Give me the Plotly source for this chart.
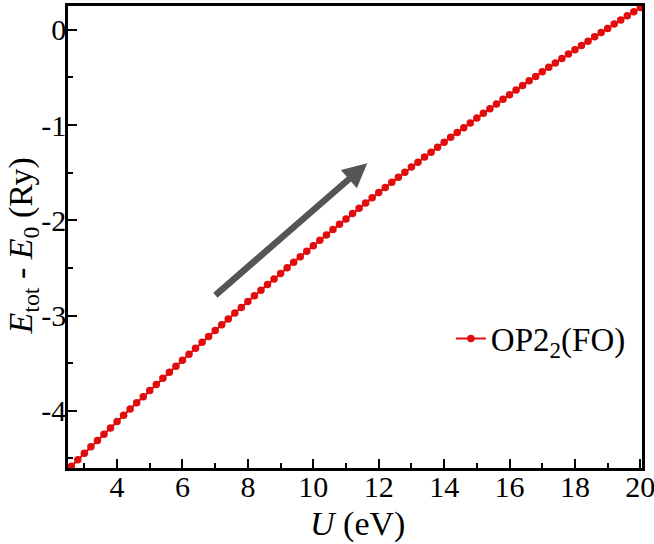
import plotly.graph_objects as go

# U (eV) values
U = [2.6, 2.8, 3.0, 3.2, 3.4, 3.6, 3.8, 4.0, 4.2, 4.4, 4.6, 4.8, 5.0, 5.2, 5.4, 5.6, 5.8,
     6.0, 6.2, 6.4, 6.6, 6.8, 7.0, 7.2, 7.4, 7.6, 7.8, 8.0, 8.2, 8.4, 8.6, 8.8, 9.0,
     9.2, 9.4, 9.6, 9.8, 10.0, 10.2, 10.4, 10.6, 10.8, 11.0, 11.2, 11.4, 11.6, 11.8,
     12.0, 12.2, 12.4, 12.6, 12.8, 13.0, 13.2, 13.4, 13.6, 13.8, 14.0, 14.2, 14.4,
     14.6, 14.8, 15.0, 15.2, 15.4, 15.6, 15.8, 16.0, 16.2, 16.4, 16.6, 16.8, 17.0,
     17.2, 17.4, 17.6, 17.8, 18.0, 18.2, 18.4, 18.6, 18.8, 19.0, 19.2, 19.4, 19.6,
     19.8, 20.0]

# E_tot - E_0 (Ry)
dE = [-4.581, -4.513, -4.445, -4.378, -4.311, -4.245, -4.179, -4.113, -4.047, -3.981,
      -3.916, -3.852, -3.787, -3.723, -3.659, -3.595, -3.532, -3.469, -3.406, -3.343,
      -3.281, -3.219, -3.157, -3.096, -3.035, -2.974, -2.914, -2.853, -2.793, -2.734,
      -2.674, -2.615, -2.557, -2.498, -2.440, -2.382, -2.324, -2.267, -2.210, -2.153,
      -2.097, -2.040, -1.985, -1.929, -1.874, -1.819, -1.764, -1.709, -1.655, -1.601,
      -1.548, -1.494, -1.441, -1.389, -1.336, -1.284, -1.232, -1.181, -1.129, -1.078,
      -1.028, -0.977, -0.927, -0.877, -0.828, -0.778, -0.729, -0.681, -0.632, -0.584,
      -0.536, -0.489, -0.441, -0.394, -0.348, -0.301, -0.255, -0.209, -0.164, -0.119,
      -0.074, -0.029, 0.015, 0.060, 0.103, 0.147, 0.190, 0.233]

series_name = "OP2<sub>2</sub>(FO)"
x_title = "<i>U</i> (eV)"
y_title = "<i>E</i><sub>tot</sub> - <i>E</i><sub>0</sub> (Ry)"
x_ticks = [4, 6, 8, 10, 12, 14, 16, 18, 20]
y_ticks = [0, -1, -2, -3, -4]

# arrow (tail -> tip), in data units
arrow_tail = (6.96, -2.80)
arrow_tip = (11.65, -1.40)

red = "rgb(226,12,12)"
font_family = "Liberation Serif, Times New Roman, serif"
tick_size = 30
title_size = 34
legend_size = 33

fig = go.Figure()
fig.add_trace(go.Scatter(
    x=U, y=dE, mode="lines+markers", name=series_name,
    line=dict(color=red, width=2),
    marker=dict(color=red, size=7.5, symbol="circle"),
))

fig.add_annotation(
    x=arrow_tip[0], y=arrow_tip[1], ax=arrow_tail[0], ay=arrow_tail[1],
    xref="x", yref="y", axref="x", ayref="y",
    text="", showarrow=True, arrowhead=2, arrowsize=0.75, arrowwidth=6.5,
    arrowcolor="rgb(85,85,85)", standoff=0,
)

# axis titles placed precisely
fig.add_annotation(
    text=x_title, xref="paper", yref="paper", x=0.505, y=-0.122,
    xanchor="center", yanchor="middle", showarrow=False,
    font=dict(family=font_family, size=title_size, color="black"),
)
fig.add_annotation(
    text=y_title, xref="paper", yref="paper", x=-0.078, y=0.48,
    xanchor="center", yanchor="middle", showarrow=False, textangle=-90,
    font=dict(family=font_family, size=title_size, color="black"),
)

axis_common = dict(
    showline=True, linecolor="black", linewidth=2.5, mirror=True,
    ticks="inside", ticklen=9, tickwidth=2, tickcolor="black",
    showgrid=False, zeroline=False, automargin=False,
    ticklabeloverflow="allow",
    tickfont=dict(family=font_family, size=tick_size, color="black"),
)

fig.update_xaxes(
    range=[2.5, 20.05], tickvals=x_ticks, ticktext=[str(v) for v in x_ticks],
    ticklabelstandoff=-10,
    minor=dict(ticks="inside", ticklen=5, tickwidth=2, tickcolor="black", dtick=1, tick0=0),
    **axis_common,
)
fig.update_yaxes(
    range=[-4.6, 0.25], tickvals=y_ticks, ticktext=[str(v) for v in y_ticks],
    ticklabelstandoff=-7,
    minor=dict(ticks="inside", ticklen=5, tickwidth=2, tickcolor="black", dtick=0.5, tick0=0),
    **axis_common,
)

fig.update_layout(
    width=654, height=544,
    margin=dict(l=68, r=12, t=6, b=76),
    paper_bgcolor="white", plot_bgcolor="white",
    showlegend=True,
    legend=dict(x=0.667, y=0.28, xanchor="left", yanchor="middle",
                bgcolor="rgba(0,0,0,0)",
                font=dict(family=font_family, size=legend_size, color="black")),
)

fig.write_html("out.html")
